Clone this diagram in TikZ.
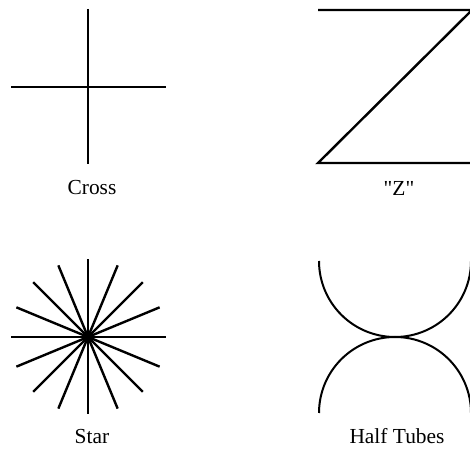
\documentclass[tikz,border=0pt]{standalone}
\usepackage{fontspec}
\setmainfont{Liberation Serif}
\newfontfamily\plainquotes{Liberation Serif}
\begin{document}
\begin{tikzpicture}[x=1bp,y=1bp,
  stroke/.style={line width=2.4bp, black},
  arcstroke/.style={line width=2bp, black},
  lbl/.style={font=\fontsize{21.5}{24}\selectfont, inner sep=0pt, anchor=base}]
\useasboundingbox (0,0) rectangle (470,449);
\clip (0,0) rectangle (470,449);
% Cross
\coordinate (crossN) at (88,440);
\coordinate (crossS) at (88,285);
\coordinate (crossW) at (11,362);
\coordinate (crossE) at (166,362);
\draw[stroke] (crossN) -- (crossS);
\draw[stroke] (crossW) -- (crossE);
\node[lbl] (crosslabel) at (92,254) {Cross};
% Z
\coordinate (zTL) at (318,439);
\coordinate (zTR) at (472,439);
\coordinate (zBL) at (318,286);
\coordinate (zBR) at (472,286);
\draw[stroke] (zTL) -- (zTR) -- (zBL) -- (zBR);
\node[lbl] (zlabel) at (399,253) {\plainquotes "Z"};
% Star
\coordinate (starC) at (88,112);
\foreach \a in {0,22.5,...,157.5}
  \draw[stroke] (starC) +(\a:77.5) -- +(\a+180:77.5);
\fill (starC) circle (3bp);
\node[lbl] (starlabel) at (92,5) {Star};
% Half tubes
\coordinate (tubeTop) at (319,188);
\coordinate (tubeBot) at (319,36);
\draw[arcstroke] (tubeTop) arc[start angle=180, end angle=360, radius=76];
\draw[arcstroke] (tubeBot) arc[start angle=180, end angle=0, radius=76];
\node[lbl] (tubelabel) at (397,5) {Half Tubes};
\end{tikzpicture}
\end{document}
